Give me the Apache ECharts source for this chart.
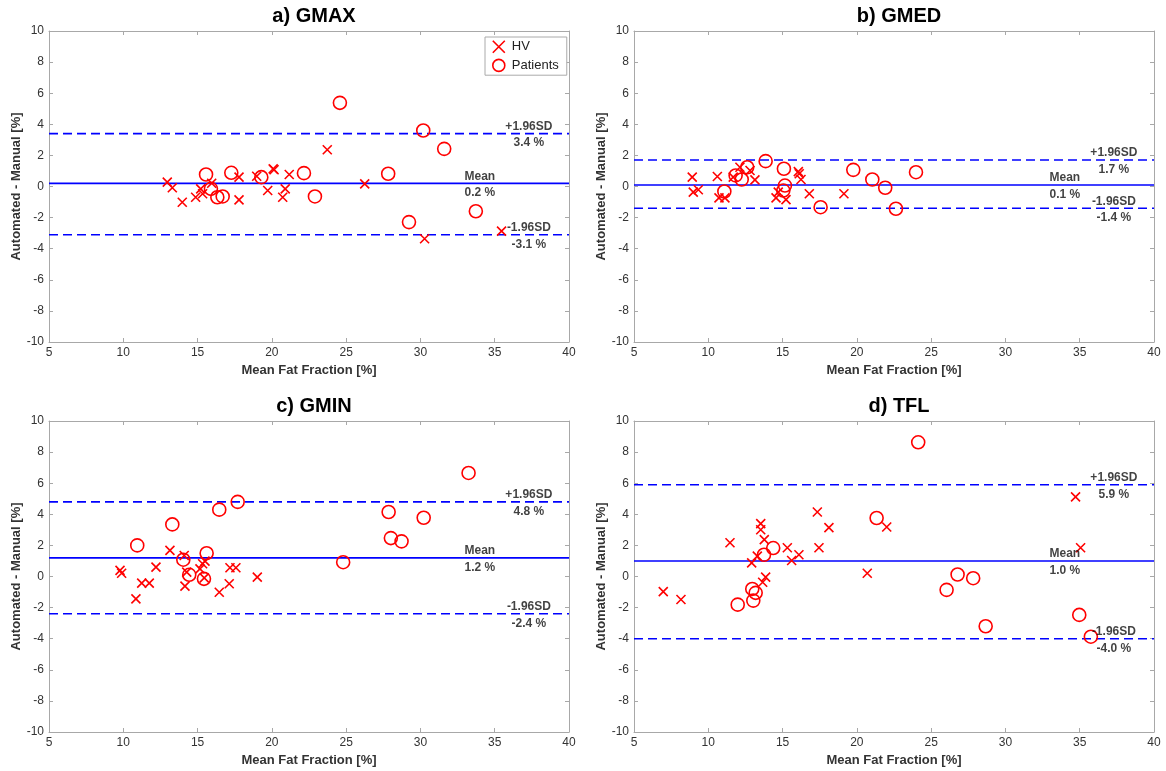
<!DOCTYPE html>
<html>
<head>
<meta charset="utf-8">
<script src="https://cdn.jsdelivr.net/npm/echarts@6/dist/echarts.min.js"></script>
<style>
html,body{margin:0;padding:0;background:#fff;}
#chart{width:1166px;height:771px;}
</style>
</head>
<body>
<div id="chart"></div>
<script>
// ---- axis settings ----
const xMin = 5, xMax = 40, xStep = 5;
const yMin = -10, yMax = 10, yStep = 2;
const xAxisTitle = 'Mean Fat Fraction [%]';
const yAxisTitle = 'Automated - Manual [%]';
const panelTitles = ['a) GMAX', 'b) GMED', 'c) GMIN', 'd) TFL'];
const seriesNames = ['HV', 'Patients'];

// ---- a) GMAX ----
const gmaxHV = [[12.96,0.28],[13.30,-0.08],[13.97,-1.01],[14.87,-0.69],[15.21,-0.15],[15.34,-0.47],[15.95,0.21],[17.79,0.60],[17.79,-0.86],[18.98,0.66],[19.72,-0.26],[20.09,1.13],[20.15,1.08],[20.73,-0.69],[20.90,-0.15],[21.17,0.77],[23.73,2.36],[26.25,0.17],[30.28,-3.36],[35.46,-2.87]];
const gmaxPt = [[15.57,0.77],[15.90,-0.15],[16.33,-0.69],[16.69,-0.64],[17.27,0.88],[19.29,0.60],[22.16,0.86],[22.90,-0.64],[24.58,5.38],[27.83,0.82],[29.23,-2.29],[30.19,3.60],[31.60,2.42],[33.73,-1.59]];
const gmaxStats = [0.2, 3.4, -3.1]; // mean, +1.96SD, -1.96SD

// ---- b) GMED ----
const gmedHV = [[8.92,0.60],[8.99,-0.36],[9.33,-0.21],[10.61,0.64],[10.72,-0.73],[11.12,-0.73],[11.68,0.60],[12.13,1.24],[12.81,1.03],[13.14,0.43],[14.56,-0.73],[14.71,-0.36],[15.23,-0.84],[16.06,0.96],[16.12,0.82],[16.24,0.45],[16.80,-0.47],[19.13,-0.47]];
const gmedPt = [[11.08,-0.32],[11.84,0.71],[12.25,0.45],[12.62,1.24],[13.86,1.63],[15.09,1.14],[15.16,0.06],[15.05,-0.26],[17.56,-1.33],[19.76,1.07],[21.04,0.45],[21.91,-0.08],[22.63,-1.43],[23.98,0.92]];
const gmedStats = [0.1, 1.7, -1.4];

// ---- c) GMIN ----
const gminHV = [[9.78,0.39],[9.89,0.21],[10.85,-1.44],[11.24,-0.43],[11.75,-0.43],[12.20,0.60],[13.14,1.68],[14.10,1.35],[14.15,-0.62],[14.27,0.28],[15.16,0.49],[15.34,0.82],[15.50,0.99],[15.45,-0.09],[16.46,-1.01],[17.13,-0.47],[17.18,0.56],[17.58,0.56],[19.02,-0.04]];
const gminPt = [[10.94,2.00],[13.30,3.35],[14.04,1.08],[14.44,0.11],[15.43,-0.15],[15.61,1.50],[16.46,4.30],[17.70,4.80],[24.80,0.92],[27.86,4.15],[28.01,2.47],[28.73,2.26],[30.22,3.78],[33.24,6.66]];
const gminStats = [1.2, 4.8, -2.4];

// ---- d) TFL ----
const tflHV = [[6.97,-0.97],[8.16,-1.48],[11.46,2.17],[12.92,0.88],[13.30,1.31],[13.53,3.40],[13.53,3.01],[13.77,2.37],[13.66,-0.37],[13.86,-0.04],[15.32,1.85],[15.61,1.03],[16.10,1.40],[17.34,4.15],[17.45,1.85],[18.12,3.14],[20.70,0.21],[22.01,3.18],[34.72,5.12],[35.06,1.85]];
const tflPt = [[11.98,-1.81],[12.96,-0.80],[13.03,-1.55],[13.19,-1.05],[13.75,1.40],[14.37,1.83],[21.33,3.76],[24.13,8.63],[26.04,-0.86],[26.78,0.13],[27.83,-0.11],[28.67,-3.20],[34.97,-2.47],[35.75,-3.87]];
const tflStats = [1.0, 5.9, -4.0];

const meanLabelX = 34.0, sdLabelX = 37.3;

// ---- layout / styling ----
const panels = [
  {hv: gmaxHV, pt: gmaxPt, stats: gmaxStats},
  {hv: gmedHV, pt: gmedPt, stats: gmedStats},
  {hv: gminHV, pt: gminPt, stats: gminStats},
  {hv: tflHV, pt: tflPt, stats: tflStats}
];
const gridPos = [
  {left: 49, top: 31, width: 520, height: 311},
  {left: 634, top: 31, width: 520, height: 311},
  {left: 49, top: 421, width: 520, height: 311},
  {left: 634, top: 421, width: 520, height: 311}
];
const FONT = '"Liberation Sans", Arial, sans-serif';
const AXIS_COLOR = '#a8a8a8';
const RED = '#ff0000';
const BLUE = '#0000ff';
const crossPath = 'path://M0,0L10,10M10,0L0,10';

const grids = [], xAxes = [], yAxes = [], series = [], titles = [];

panels.forEach((p, i) => {
  const g = gridPos[i];
  grids.push(Object.assign({containLabel: false}, g));
  titles.push({
    text: panelTitles[i], left: g.left + g.width / 2, top: g.top - 30, textAlign: 'center',
    textStyle: {fontFamily: FONT, fontSize: 20, fontWeight: 'bold', color: '#000'}
  });
  const lineStyle = {show: true, onZero: false, lineStyle: {color: AXIS_COLOR, width: 1}};
  const tick = {show: true, inside: true, length: 4, lineStyle: {color: AXIS_COLOR}};
  xAxes.push({
    type: 'value', gridIndex: i, position: 'bottom', min: xMin, max: xMax, interval: xStep,
    splitLine: {show: false}, axisLine: lineStyle, axisTick: tick,
    axisLabel: {fontFamily: FONT, fontSize: 12, color: '#333', margin: 5},
    name: xAxisTitle, nameLocation: 'middle', nameGap: 22,
    nameTextStyle: {fontFamily: FONT, fontSize: 13, fontWeight: 'bold', color: '#333'}
  });
  xAxes.push({
    type: 'value', gridIndex: i, position: 'top', min: xMin, max: xMax, interval: xStep,
    splitLine: {show: false}, axisLine: lineStyle, axisTick: tick, axisLabel: {show: false}
  });
  yAxes.push({
    type: 'value', gridIndex: i, position: 'left', min: yMin, max: yMax, interval: yStep,
    splitLine: {show: false}, axisLine: lineStyle, axisTick: tick,
    axisLabel: {fontFamily: FONT, fontSize: 12, color: '#333', margin: 5},
    name: yAxisTitle, nameLocation: 'middle', nameGap: 22, nameRotate: 90,
    nameTextStyle: {fontFamily: FONT, fontSize: 13, fontWeight: 'bold', color: '#333'}
  });
  yAxes.push({
    type: 'value', gridIndex: i, position: 'right', min: yMin, max: yMax, interval: yStep,
    splitLine: {show: false}, axisLine: lineStyle, axisTick: tick, axisLabel: {show: false}
  });
  const xi = 2 * i, yi = 2 * i;
  const [mean, up, lo] = p.stats;
  // limit lines
  [[mean, 'solid'], [up, [9, 5]], [lo, [9, 5]]].forEach(([v, t]) => {
    series.push({
      type: 'line', xAxisIndex: xi, yAxisIndex: yi, silent: true, symbol: 'none',
      data: [[xMin, v], [xMax, v]],
      lineStyle: {color: BLUE, width: 1.6, type: t}, z: 1
    });
  });
  // text annotations
  const txt = (x, y, s, dy) => ({
    value: [x, y],
    label: {show: true, position: 'inside', formatter: s, offset: [0, dy],
      fontFamily: FONT, fontSize: 12, fontWeight: 'bold', color: '#111'}
  });
  series.push({
    type: 'scatter', xAxisIndex: xi, yAxisIndex: yi, silent: true, symbolSize: 1,
    itemStyle: {color: 'transparent'}, z: 5,
    data: [
      txt(meanLabelX, mean, 'Mean', -7), txt(meanLabelX, mean, mean.toFixed(1) + ' %', 9.5),
      txt(sdLabelX, up, '+1.96SD', -7), txt(sdLabelX, up, up.toFixed(1) + ' %', 9.5),
      txt(sdLabelX, lo, '-1.96SD', -7), txt(sdLabelX, lo, lo.toFixed(1) + ' %', 9.5)
    ]
  });
  // points
  series.push({
    name: seriesNames[0], type: 'scatter', xAxisIndex: xi, yAxisIndex: yi,
    symbol: crossPath, symbolSize: 9, data: p.hv, z: 3,
    itemStyle: {color: 'transparent', borderColor: RED, borderWidth: 1.6, opacity: 1}
  });
  series.push({
    name: seriesNames[1], type: 'scatter', xAxisIndex: xi, yAxisIndex: yi,
    symbol: 'circle', symbolSize: 13, data: p.pt, z: 3,
    itemStyle: {color: 'transparent', borderColor: RED, borderWidth: 1.6, opacity: 1}
  });
});

const chart = echarts.init(document.getElementById('chart'), null, {renderer: 'canvas'});
chart.setOption({
  animation: false,
  backgroundColor: '#fff',
  title: titles,
  grid: grids,
  xAxis: xAxes,
  yAxis: yAxes,
  legend: {
    orient: 'vertical', left: 485, top: 37,
    itemWidth: 16, itemHeight: 12, itemGap: 5,
    padding: [3, 8, 3, 7],
    backgroundColor: '#fff', borderColor: '#aaa', borderWidth: 1, borderRadius: 0,
    selectedMode: false,
    textStyle: {fontFamily: FONT, fontSize: 13, color: '#222'},
    data: [
      {name: seriesNames[0], icon: crossPath, itemStyle: {color: 'transparent', borderColor: RED, borderWidth: 1.6}},
      {name: seriesNames[1], icon: 'circle', itemStyle: {color: 'transparent', borderColor: RED, borderWidth: 1.6}}
    ]
  },
  series: series
});
</script>
</body>
</html>
